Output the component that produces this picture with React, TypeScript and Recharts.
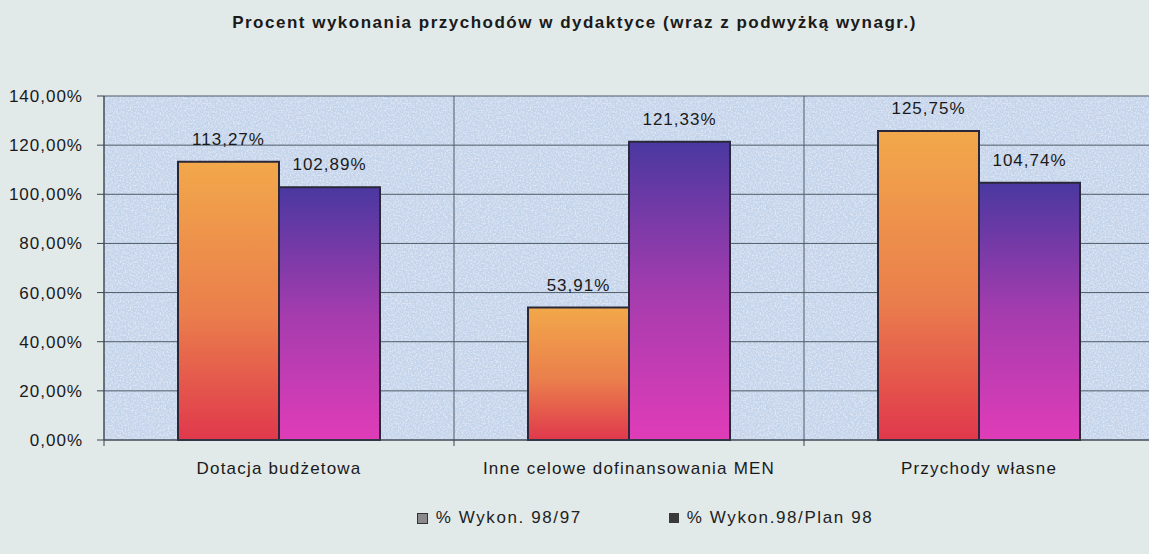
import React from 'react';
import { BarChart, Bar, XAxis, YAxis, CartesianGrid, LabelList, Legend } from 'recharts';

const categories = ['Dotacja budżetowa', 'Inne celowe dofinansowania MEN', 'Przychody własne'];
const wykon9897 = [113.27, 53.91, 125.75];
const wykonPlan98 = [102.89, 121.33, 104.74];
const yTicks = [0, 20, 40, 60, 80, 100, 120, 140];
const seriesNames = ['% Wykon. 98/97', '% Wykon.98/Plan 98'];
const title = 'Procent wykonania przychodów w dydaktyce (wraz z podwyżką wynagr.)';

const data = categories.map((c, i) => ({ name: c, a: wykon9897[i], b: wykonPlan98[i] }));

const fmt = (v: number) => `${v.toFixed(2).replace('.', ',')}%`;
const FONT = 'Arial, "Liberation Sans", sans-serif';
const textStyle = { fill: '#1a1a1a', fontFamily: FONT, fontSize: 17, letterSpacing: 1 };
const TICK_SIZE = 6;
const TICK_MARGIN = 16;

const CategoryTick = (props: any) => {
  const { x, y, payload, width, visibleTicksCount } = props;
  const band = width / visibleTicksCount;
  const axisY = y - TICK_SIZE - TICK_MARGIN;
  return (
    <g>
      <line x1={x - band / 2} x2={x - band / 2} y1={axisY} y2={axisY + 6} stroke="#3a4450" />
      <text x={x} y={y} dy="0.71em" textAnchor="middle" style={{ ...textStyle, letterSpacing: 1.2 }} fill="#1a1a1a">
        {payload.value}
      </text>
    </g>
  );
};

const LegendContent = () => (
  <div style={{ display: 'flex', justifyContent: 'center', fontFamily: FONT, fontSize: 17, letterSpacing: 1.6, color: '#222', paddingLeft: 136 }}>
    <span style={{ display: 'flex', alignItems: 'center', marginRight: 87 }}>
      <span style={{ width: 9, height: 9, background: '#8a8a8a', border: '1px solid #333', marginRight: 8, display: 'inline-block' }} />
      {seriesNames[0]}
    </span>
    <span style={{ display: 'flex', alignItems: 'center' }}>
      <span style={{ width: 10, height: 10, background: '#3a3a3a', marginRight: 8, display: 'inline-block' }} />
      {seriesNames[1]}
    </span>
  </div>
);

export default function App() {
  return (
    <div style={{ position: 'fixed', left: 0, top: 0, width: 1149, height: 554, overflow: 'hidden', background: '#e1e9e9' }}>
      <div style={{ position: 'absolute', top: 13, left: 0, width: 1149, textAlign: 'center', fontFamily: FONT, fontWeight: 'bold', fontSize: 17, letterSpacing: 1.5, color: '#1a1a1a' }}>
        {title}
      </div>
      <BarChart
        width={1154}
        height={554}
        data={data}
        margin={{ top: 96, right: 0, left: 0, bottom: 64 }}
        barGap={0}
        barSize={101}
      >
        <defs>
          <linearGradient id="gA" x1="0" y1="0" x2="0" y2="1">
            <stop offset="0%" stopColor="#f2a84a" />
            <stop offset="55%" stopColor="#ea7e4c" />
            <stop offset="100%" stopColor="#e0384c" />
          </linearGradient>
          <linearGradient id="gB" x1="0" y1="0" x2="0" y2="1">
            <stop offset="0%" stopColor="#4a38a0" />
            <stop offset="50%" stopColor="#a43cae" />
            <stop offset="100%" stopColor="#e03cb8" />
          </linearGradient>
          <filter id="noise" x="0" y="0" width="100%" height="100%">
            <feTurbulence type="fractalNoise" baseFrequency="0.6" numOctaves="3" seed="3" result="t" />
            <feColorMatrix type="matrix" values="0 0 0 0 0.97  0 0 0 0 0.94  0 0 0 0 1  0 0 0 1.6 -0.6" />
          </filter>
          <pattern id="bg" patternUnits="userSpaceOnUse" width="200" height="200">
            <rect width="200" height="200" fill="#c2d3ea" />
            <rect width="200" height="200" filter="url(#noise)" opacity="0.8" />
          </pattern>
        </defs>
        <CartesianGrid
          fill="url(#bg)"
          fillOpacity={1}
          stroke="#4e5c68"
          strokeWidth={1}
          verticalCoordinatesGenerator={({ offset }: any) =>
            categories.map((_, i) => offset.left + (i * offset.width) / categories.length).concat([offset.left + offset.width])
          }
        />
        <XAxis
          dataKey="name"
          axisLine={{ stroke: '#3a4450' }}
          tickLine={false}
          tickSize={TICK_SIZE}
          height={30}
          tick={<CategoryTick />}
          tickMargin={TICK_MARGIN}
          interval={0}
        />
        <YAxis
          width={104}
          domain={[0, 140]}
          ticks={yTicks}
          tickFormatter={fmt}
          axisLine={{ stroke: '#3a4450' }}
          tickLine={{ stroke: '#3a4450' }}
          tickSize={7}
          tickMargin={14}
          tick={textStyle}
          interval={0}
        />
        <Legend verticalAlign="bottom" wrapperStyle={{ bottom: 26 }} content={<LegendContent />} />
        <Bar dataKey="a" fill="url(#gA)" stroke="#2a2838" strokeWidth={2} isAnimationActive={false}>
          <LabelList dataKey="a" position="top" offset={17} formatter={(v: any) => fmt(Number(v))} style={textStyle} />
        </Bar>
        <Bar dataKey="b" fill="url(#gB)" stroke="#2a2838" strokeWidth={2} isAnimationActive={false}>
          <LabelList dataKey="b" position="top" offset={17} formatter={(v: any) => fmt(Number(v))} style={textStyle} />
        </Bar>
      </BarChart>
    </div>
  );
}
